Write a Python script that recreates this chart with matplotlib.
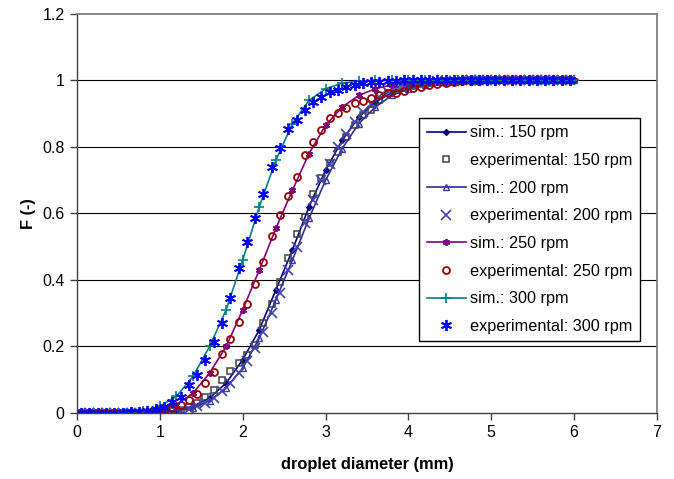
"""Cumulative droplet size distribution: simulation vs. experiment."""

import matplotlib

matplotlib.use("Agg")
import matplotlib.pyplot as plt

plt.rcParams["font.family"] = ["Liberation Sans", "DejaVu Sans"]

# simulated curves, every 0.2 mm
sim_x = [0.0, 0.2, 0.4, 0.6, 0.8, 1.0, 1.2, 1.4, 1.6, 1.8, 2.0, 2.2, 2.4, 2.6,
         2.8, 3.0, 3.2, 3.4, 3.6, 3.8, 4.0, 4.2, 4.4, 4.6, 4.8, 5.0, 5.2, 5.4,
         5.6, 5.8, 6.0]
sim_150 = [0, 0, 0, 0, 0.001, 0.002, 0.008, 0.02, 0.045, 0.09, 0.16, 0.25,
           0.37, 0.49, 0.62, 0.73, 0.82, 0.89, 0.935, 0.963, 0.98, 0.99,
           0.995, 0.998, 0.999, 1, 1, 1, 1, 1, 1]
sim_200 = [0, 0, 0, 0, 0, 0.001, 0.006, 0.016, 0.037, 0.075, 0.135, 0.225,
           0.34, 0.46, 0.585, 0.70, 0.795, 0.87, 0.92, 0.955, 0.975, 0.987,
           0.994, 0.997, 0.999, 1, 1, 1, 1, 1, 1]
sim_250 = [0, 0, 0, 0.001, 0.003, 0.01, 0.025, 0.06, 0.12, 0.20, 0.31, 0.43,
           0.555, 0.67, 0.78, 0.865, 0.92, 0.955, 0.975, 0.987, 0.994, 0.997,
           0.999, 1, 1, 1, 1, 1, 1, 1, 1]
sim_300 = [0, 0, 0, 0.001, 0.005, 0.02, 0.05, 0.11, 0.20, 0.31, 0.46, 0.62,
           0.76, 0.87, 0.94, 0.975, 0.992, 0.998, 1, 1, 1, 1, 1, 1, 1, 1, 1,
           1, 1, 1, 1]

# measured values, class midpoints every 0.1 mm
exp_x = [0.05, 0.15, 0.25, 0.35, 0.45, 0.55, 0.65, 0.75, 0.85, 0.95,
         1.05, 1.15, 1.25, 1.35, 1.45, 1.55, 1.65, 1.75, 1.85, 1.95,
         2.05, 2.15, 2.25, 2.35, 2.45, 2.55, 2.65, 2.75, 2.85, 2.95,
         3.05, 3.15, 3.25, 3.35, 3.45, 3.55, 3.65, 3.75, 3.85, 3.95,
         4.05, 4.15, 4.25, 4.35, 4.45, 4.55, 4.65, 4.75, 4.85, 4.95,
         5.05, 5.15, 5.25, 5.35, 5.45, 5.55, 5.65, 5.75, 5.85, 5.95]
exp_150 = [0, 0, 0, 0, 0, 0, 0, 0, 0, 0.001,
           0.002, 0.005, 0.01, 0.018, 0.03, 0.047, 0.07, 0.10, 0.125, 0.15,
           0.175, 0.205, 0.27, 0.327, 0.395, 0.465, 0.537, 0.59, 0.659, 0.706,
           0.751, 0.786, 0.829, 0.866, 0.896, 0.911, 0.941, 0.963, 0.97, 0.977,
           0.983, 0.988, 0.992, 0.995, 0.997, 0.998, 0.999, 1, 1, 1,
           1, 1, 1, 1, 1, 1, 1, 1, 1, 1]
exp_200 = [0, 0, 0, 0, 0, 0, 0, 0, 0, 0,
           0.001, 0.003, 0.006, 0.012, 0.02, 0.03, 0.045, 0.065, 0.09, 0.12,
           0.155, 0.195, 0.245, 0.30, 0.36, 0.43, 0.50, 0.57, 0.64, 0.70,
           0.75, 0.80, 0.84, 0.875, 0.905, 0.93, 0.95, 0.965, 0.975, 0.983,
           0.988, 0.992, 0.995, 0.997, 0.998, 0.999, 1, 1, 1, 1,
           1, 1, 1, 1, 1, 1, 1, 1, 1, 1]
exp_250 = [0, 0, 0, 0, 0, 0, 0, 0, 0.002, 0.004,
           0.008, 0.014, 0.024, 0.039, 0.057, 0.089, 0.124, 0.176, 0.222, 0.275,
           0.328, 0.387, 0.455, 0.532, 0.595, 0.654, 0.711, 0.776, 0.816, 0.851,
           0.886, 0.901, 0.916, 0.931, 0.938, 0.948, 0.955, 0.961, 0.963, 0.968,
           0.976, 0.98, 0.985, 0.99, 0.993, 0.995, 0.997, 0.998, 0.999, 1,
           1, 1, 1, 1, 1, 1, 1, 1, 1, 1]
exp_300 = [0, 0, 0, 0, 0, 0, 0.002, 0.004, 0.007, 0.012,
           0.019, 0.032, 0.049, 0.084, 0.114, 0.159, 0.215, 0.272, 0.345, 0.435,
           0.515, 0.585, 0.659, 0.739, 0.796, 0.853, 0.88, 0.911, 0.936, 0.95,
           0.966, 0.972, 0.98, 0.986, 0.991, 0.994, 0.996, 0.998, 0.999, 1,
           1, 1, 1, 1, 1, 1, 1, 1, 1, 1,
           1, 1, 1, 1, 1, 1, 1, 1, 1, 1]

x_ticks = [0, 1, 2, 3, 4, 5, 6, 7]
y_ticks = [0, 0.2, 0.4, 0.6, 0.8, 1.0, 1.2]
y_tick_labels = ["0", "0.2", "0.4", "0.6", "0.8", "1", "1.2"]

ASTERISK = (6, 2, 0)

fig = plt.figure(figsize=(6.74, 4.79), dpi=100)
ax = fig.add_axes([0.1142, 0.1378, 0.8606, 0.833])

for y in y_ticks[1:-1]:
    ax.axhline(y, color="black", linewidth=0.8, zorder=0)

ax.plot(sim_x, sim_150, color="#000080", linewidth=1.2, marker="D",
        markersize=3, markerfacecolor="#000080", markeredgecolor="#000080",
        label="sim.: 150 rpm")
ax.plot(exp_x, exp_150, linestyle="none", marker="s", markersize=5,
        markerfacecolor="none", markeredgecolor="#404040",
        markeredgewidth=1.1, label="experimental: 150 rpm")
ax.plot(sim_x, sim_200, color="#2E2E8C", linewidth=1.2, marker="^",
        markersize=4, markerfacecolor="none", markeredgecolor="#3A3A9A",
        label="sim.: 200 rpm")
ax.plot(exp_x, exp_200, linestyle="none", marker="x", markersize=6.5,
        markeredgecolor="#4040B0", markeredgewidth=1.2,
        label="experimental: 200 rpm")
ax.plot(sim_x, sim_250, color="#800080", linewidth=1.2, marker=ASTERISK,
        markersize=5, markeredgecolor="#800080", markeredgewidth=1.3,
        label="sim.: 250 rpm")
ax.plot(exp_x, exp_250, linestyle="none", marker="o", markersize=5,
        markerfacecolor="none", markeredgecolor="#990000",
        markeredgewidth=1.3, label="experimental: 250 rpm")
ax.plot(sim_x, sim_300, color="#008080", linewidth=1.2, marker="+",
        markersize=7, markeredgecolor="#008080", markeredgewidth=1.2,
        label="sim.: 300 rpm")
ax.plot(exp_x, exp_300, linestyle="none", marker=ASTERISK, markersize=8,
        markeredgecolor="#0000FF", markeredgewidth=1.3,
        label="experimental: 300 rpm")

ax.set_xlim(0, 7)
ax.set_ylim(0, 1.2)
ax.set_xticks(x_ticks)
ax.set_yticks(y_ticks)
ax.set_yticklabels(y_tick_labels)
ax.tick_params(direction="out", length=5, width=1, color="#404040",
               labelsize=11.5, pad=4)

for side in ("top", "right"):
    ax.spines[side].set_color("#808080")
    ax.spines[side].set_linewidth(1.3)
for side in ("left", "bottom"):
    ax.spines[side].set_color("#404040")
    ax.spines[side].set_linewidth(1.0)

ax.set_xlabel("droplet diameter (mm)", fontsize=11.8, fontweight="bold")
ax.set_ylabel("F (-)", fontsize=11.8, fontweight="bold")
ax.xaxis.set_label_coords(0.5, -0.11)
ax.yaxis.set_label_coords(-0.07, 0.5)

legend = ax.legend(loc="upper left", bbox_to_anchor=(0.59, 0.739),
                   borderaxespad=0, fontsize=11.7, frameon=True,
                   fancybox=False, edgecolor="black", framealpha=1,
                   handlelength=2.45, handletextpad=0.25, labelspacing=0.78,
                   borderpad=0.45)
legend.get_frame().set_linewidth(1.0)

fig.savefig("out.png", dpi=100)
